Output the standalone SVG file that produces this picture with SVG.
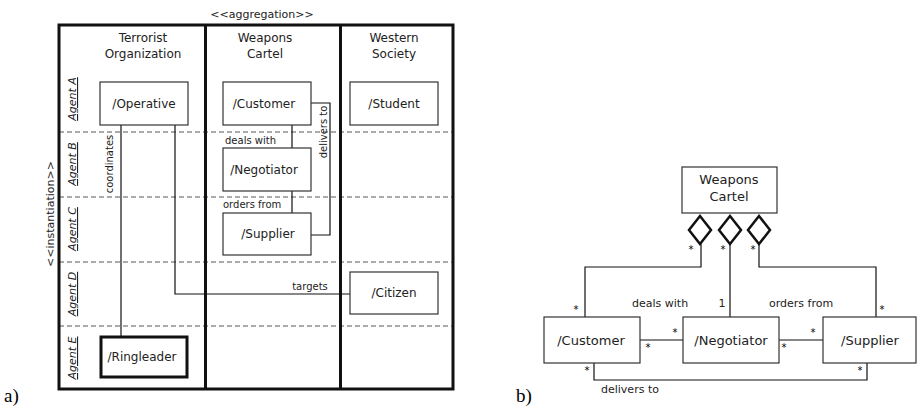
<svg xmlns="http://www.w3.org/2000/svg" width="917" height="406" viewBox="0 0 917 406">
  <style>
    text { font-family: "DejaVu Sans", "Liberation Sans", sans-serif; fill: #222; }
    .box { fill: #fff; stroke: #333; stroke-width: 1.2; }
    .bold { fill: #fff; stroke: #111; stroke-width: 3; }
    .frame { fill: none; stroke: #111; stroke-width: 3; }
    .lane { stroke: #555; stroke-width: 1; stroke-dasharray: 5 3; }
    .wire { fill: none; stroke: #111; stroke-width: 1.2; }
    .dia { fill: #fff; stroke: #111; stroke-width: 2.5; stroke-linejoin: miter; }
    .name { font-size: 12px; text-anchor: middle; }
    .nameb { font-size: 13px; text-anchor: middle; }
    .lbl { font-size: 10px; }
    .lblb { font-size: 11px; }
    .star { font-size: 10px; text-anchor: middle; fill: #000; }
    .agent { font-size: 11px; font-style: italic; text-decoration: underline; text-anchor: middle; }
    .cap { font-family: "Liberation Serif", serif; font-size: 19px; fill: #000; }
  </style>

  <!-- (a) swimlane view -->
  <g id="swimlanes">
    <text x="262" y="18" font-size="11" text-anchor="middle">&lt;&lt;aggregation&gt;&gt;</text>
    <text transform="translate(54,214) rotate(-90)" font-size="11" text-anchor="middle">&lt;&lt;instantiation&gt;&gt;</text>
    <line class="lane" x1="59" y1="132" x2="453" y2="132"/>
    <line class="lane" x1="59" y1="197" x2="453" y2="197"/>
    <line class="lane" x1="59" y1="262" x2="453" y2="262"/>
    <line class="lane" x1="59" y1="326" x2="453" y2="326"/>
    <rect class="frame" x="59" y="25" width="394" height="364"/>
    <line class="frame" x1="205.5" y1="25" x2="205.5" y2="389"/>
    <line class="frame" x1="340.5" y1="25" x2="340.5" y2="389"/>
    <text class="name" x="143" y="42">Terrorist</text>
    <text class="name" x="143" y="58">Organization</text>
    <text class="name" x="265" y="42">Weapons</text>
    <text class="name" x="265" y="58">Cartel</text>
    <text class="name" x="394" y="42">Western</text>
    <text class="name" x="394" y="58">Society</text>
    <text class="agent" transform="translate(76,99) rotate(-90)">Agent A</text>
    <text class="agent" transform="translate(76,164) rotate(-90)">Agent B</text>
    <text class="agent" transform="translate(76,229) rotate(-90)">Agent C</text>
    <text class="agent" transform="translate(76,294) rotate(-90)">Agent D</text>
    <text class="agent" transform="translate(76,358) rotate(-90)">Agent E</text>
  </g>

  <g id="connectors-a">
    <line class="wire" x1="121" y1="125" x2="121" y2="336"/>
    <polyline class="wire" points="175,125 175,294 350,294"/>
    <line class="wire" x1="292" y1="125" x2="292" y2="148"/>
    <line class="wire" x1="292" y1="191" x2="292" y2="213"/>
    <polyline class="wire" points="311,103 330,103 330,235 311,235"/>
    <text class="lbl" transform="translate(113,164) rotate(-90)" text-anchor="middle">coordinates</text>
    <text class="lbl" transform="translate(327,132) rotate(-90)" text-anchor="middle">delivers to</text>
    <text class="lbl" x="310" y="290" text-anchor="middle">targets</text>
    <text class="lbl" x="225" y="144">deals with</text>
    <text class="lbl" x="223" y="208">orders from</text>
  </g>

  <g id="operative"><rect class="box" x="100" y="82" width="88" height="43"/><text class="name" x="144" y="108">/Operative</text></g>
  <g id="customer-a"><rect class="box" x="223" y="82" width="88" height="43"/><text class="name" x="264" y="108">/Customer</text></g>
  <g id="student"><rect class="box" x="350" y="82" width="88" height="43"/><text class="name" x="394" y="108">/Student</text></g>
  <g id="negotiator-a"><rect class="box" x="223" y="148" width="88" height="43"/><text class="name" x="264" y="174">/Negotiator</text></g>
  <g id="supplier-a"><rect class="box" x="223" y="213" width="88" height="42"/><text class="name" x="268" y="238">/Supplier</text></g>
  <g id="citizen"><rect class="box" x="350" y="272" width="88" height="42"/><text class="name" x="394" y="297">/Citizen</text></g>
  <g id="ringleader"><rect class="bold" x="101" y="337" width="86" height="40"/><text class="name" x="142" y="361">/Ringleader</text></g>

  <text class="cap" x="4" y="402">a)</text>

  <!-- (b) class view -->
  <g id="connectors-b">
    <polyline class="wire" points="701,244 701,267 585,267 585,317"/>
    <line class="wire" x1="730" y1="244" x2="730" y2="317"/>
    <polyline class="wire" points="759,244 759,267 876,267 876,317"/>
    <line class="wire" x1="640" y1="340" x2="683" y2="340"/>
    <line class="wire" x1="779" y1="340" x2="823" y2="340"/>
    <polyline class="wire" points="594,363 594,380 867,380 867,363"/>
    <path class="dia" d="M700,216 L711,230 L700,244 L689,230 Z"/>
    <path class="dia" d="M730,216 L741,230 L730,244 L719,230 Z"/>
    <path class="dia" d="M759,216 L770,230 L759,244 L748,230 Z"/>
    <text class="star" x="691" y="253">*</text>
    <text class="star" x="723" y="253">*</text>
    <text class="star" x="753" y="253">*</text>
    <text class="star" x="576" y="313">*</text>
    <text class="star" x="882" y="313">*</text>
    <text class="star" x="675" y="336">*</text>
    <text class="star" x="648" y="351">*</text>
    <text class="star" x="813" y="336">*</text>
    <text class="star" x="784" y="351">*</text>
    <text class="star" x="587" y="374">*</text>
    <text class="star" x="860" y="374">*</text>
    <text class="lblb" x="632" y="307">deals with</text>
    <text class="lblb" x="722" y="307" text-anchor="middle">1</text>
    <text class="lblb" x="769" y="307">orders from</text>
    <text class="lblb" x="601" y="393">delivers to</text>
  </g>

  <g id="cartel"><rect class="box" x="682" y="167" width="95" height="46"/><text class="nameb" x="729" y="184">Weapons</text><text class="nameb" x="729" y="201">Cartel</text></g>
  <g id="customer-b"><rect class="box" x="544" y="317" width="96" height="46"/><text class="nameb" x="591" y="345">/Customer</text></g>
  <g id="negotiator-b"><rect class="box" x="683" y="317" width="96" height="46"/><text class="nameb" x="731" y="345">/Negotiator</text></g>
  <g id="supplier-b"><rect class="box" x="823" y="317" width="93" height="46"/><text class="nameb" x="870" y="345">/Supplier</text></g>

  <text class="cap" x="516" y="402">b)</text>
</svg>
